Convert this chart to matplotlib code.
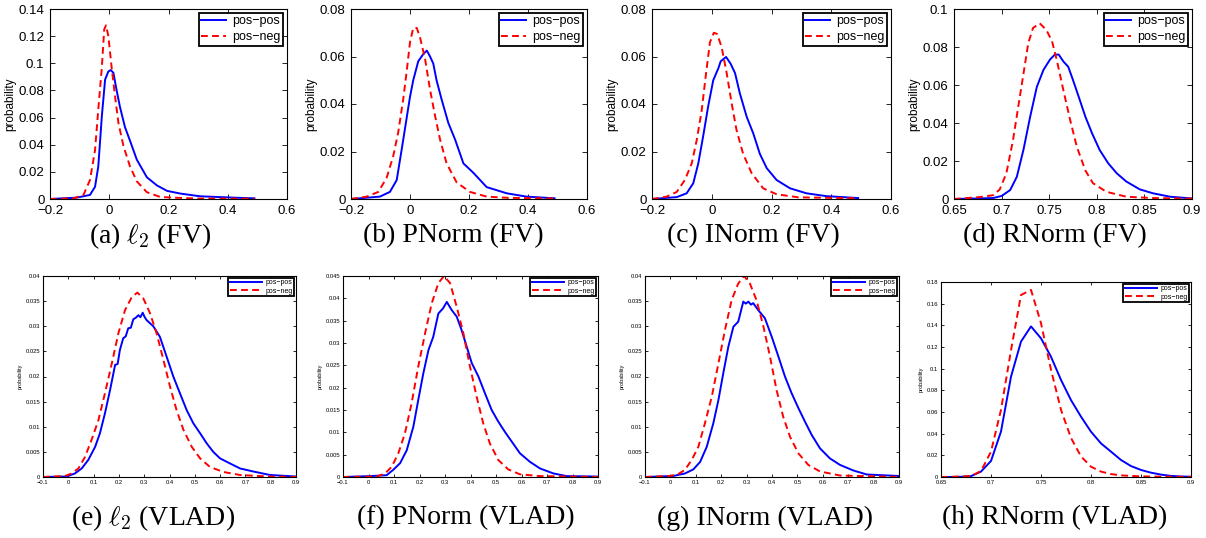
import matplotlib
matplotlib.use("Agg")
import matplotlib.pyplot as plt
from matplotlib.ticker import FixedLocator, FuncFormatter

plt.rcParams['font.family'] = ['Liberation Sans', 'DejaVu Sans']
plt.rcParams['mathtext.fontset'] = 'cm'

# ---- data (x, probability) ----
# (a) l2 (FV)
a_pos_x = [-0.2, -0.11, -0.065, -0.048, -0.037, -0.025, -0.014, -0.003, 0.005, 0.014, 0.025, 0.036, 0.053, 0.07, 0.093, 0.127, 0.161, 0.195, 0.24, 0.307, 0.42, 0.49]
a_pos_y = [0, 0.001, 0.003, 0.009, 0.024, 0.061, 0.088, 0.094, 0.095, 0.093, 0.080, 0.068, 0.053, 0.043, 0.029, 0.016, 0.010, 0.006, 0.004, 0.002, 0.001, 0.0005]
a_neg_x = [-0.2, -0.12, -0.087, -0.065, -0.048, -0.037, -0.025, -0.017, -0.011, -0.003, 0.008, 0.02, 0.031, 0.048, 0.07, 0.093, 0.127, 0.172, 0.216, 0.3, 0.49]
a_neg_y = [0, 0.0005, 0.003, 0.014, 0.036, 0.066, 0.097, 0.125, 0.128, 0.12, 0.097, 0.075, 0.056, 0.039, 0.024, 0.013, 0.005, 0.0015, 0.001, 0.0003, 0.0002]

# (b) PNorm (FV)
b_pos_x = [-0.2, -0.102, -0.068, -0.045, -0.028, -0.014, 0.0, 0.011, 0.028, 0.045, 0.057, 0.068, 0.079, 0.09, 0.107, 0.13, 0.153, 0.181, 0.215, 0.26, 0.328, 0.395, 0.49]
b_pos_y = [0, 0.001, 0.003, 0.008, 0.021, 0.032, 0.043, 0.050, 0.058, 0.061, 0.0625, 0.060, 0.057, 0.050, 0.042, 0.032, 0.025, 0.015, 0.011, 0.005, 0.0024, 0.001, 0.0003]
b_neg_x = [-0.2, -0.147, -0.107, -0.079, -0.057, -0.04, -0.023, -0.011, 0.0, 0.011, 0.023, 0.034, 0.051, 0.068, 0.085, 0.102, 0.124, 0.158, 0.203, 0.26, 0.33, 0.49]
b_neg_y = [0, 0.001, 0.003, 0.009, 0.018, 0.028, 0.042, 0.054, 0.066, 0.072, 0.072, 0.068, 0.059, 0.046, 0.035, 0.025, 0.015, 0.007, 0.003, 0.001, 0.0005, 0.0002]

# (c) INorm (FV)
c_pos_x = [-0.2, -0.117, -0.084, -0.062, -0.045, -0.028, -0.012, 0.005, 0.022, 0.03, 0.048, 0.063, 0.078, 0.094, 0.117, 0.139, 0.161, 0.184, 0.217, 0.262, 0.317, 0.384, 0.49]
c_pos_y = [0, 0.0008, 0.0024, 0.0066, 0.015, 0.027, 0.039, 0.050, 0.055, 0.058, 0.0598, 0.057, 0.053, 0.0445, 0.0346, 0.0276, 0.019, 0.013, 0.008, 0.0045, 0.0024, 0.0012, 0.0004]
c_neg_x = [-0.2, -0.151, -0.117, -0.09, -0.067, -0.05, -0.034, -0.019, -0.006, 0.007, 0.018, 0.033, 0.05, 0.067, 0.083, 0.105, 0.133, 0.172, 0.217, 0.29, 0.49]
c_neg_y = [0, 0.001, 0.003, 0.008, 0.015, 0.025, 0.037, 0.053, 0.066, 0.070, 0.0695, 0.064, 0.053, 0.040, 0.029, 0.019, 0.011, 0.0045, 0.002, 0.0007, 0.0003]

# (d) RNorm (FV)
d_pos_x = [0.65, 0.691, 0.70, 0.709, 0.716, 0.723, 0.73, 0.737, 0.744, 0.751, 0.756, 0.76, 0.765, 0.77, 0.775, 0.781, 0.788, 0.795, 0.803, 0.812, 0.821, 0.831, 0.845, 0.859, 0.877, 0.9]
d_pos_y = [0, 0.0005, 0.0016, 0.0047, 0.0117, 0.026, 0.0433, 0.059, 0.068, 0.0735, 0.076, 0.076, 0.0723, 0.0696, 0.0626, 0.0538, 0.0433, 0.0346, 0.0258, 0.0188, 0.0135, 0.0092, 0.0051, 0.003, 0.0012, 0.0003]
d_neg_x = [0.65, 0.677, 0.691, 0.698, 0.705, 0.712, 0.7175, 0.723, 0.728, 0.733, 0.74, 0.747, 0.753, 0.758, 0.765, 0.772, 0.779, 0.788, 0.796, 0.81, 0.831, 0.859, 0.9]
d_neg_y = [0, 0.001, 0.002, 0.005, 0.0135, 0.031, 0.0486, 0.066, 0.082, 0.090, 0.0925, 0.089, 0.083, 0.073, 0.057, 0.0416, 0.0275, 0.015, 0.0083, 0.0038, 0.0012, 0.0005, 0.0002]

# (e) l2 (VLAD)
e_pos_x = [-0.1, -0.007, 0.026, 0.053, 0.079, 0.106, 0.125, 0.145, 0.165, 0.185, 0.195, 0.204, 0.217, 0.227, 0.237, 0.247, 0.257, 0.267, 0.277, 0.285, 0.294, 0.302, 0.31, 0.336, 0.362, 0.389, 0.415, 0.441, 0.468, 0.494, 0.521, 0.547, 0.573, 0.6, 0.639, 0.679, 0.731, 0.797, 0.9]
e_pos_y = [0, 0.0001, 0.0007, 0.0017, 0.0034, 0.006, 0.0087, 0.0127, 0.0173, 0.0223, 0.0225, 0.0253, 0.0276, 0.028, 0.0296, 0.0297, 0.0314, 0.0317, 0.0322, 0.0318, 0.0327, 0.0318, 0.0312, 0.030, 0.0279, 0.0239, 0.020, 0.0167, 0.0133, 0.0107, 0.0087, 0.0067, 0.005, 0.0037, 0.0027, 0.0017, 0.0011, 0.0004, 0.0001]
e_neg_x = [-0.1, -0.013, 0.013, 0.04, 0.066, 0.092, 0.119, 0.145, 0.172, 0.198, 0.224, 0.251, 0.273, 0.296, 0.323, 0.349, 0.376, 0.402, 0.428, 0.455, 0.488, 0.521, 0.56, 0.613, 0.679, 0.79, 0.9]
e_neg_y = [0, 0.0002, 0.0007, 0.0017, 0.004, 0.0074, 0.0113, 0.0167, 0.0226, 0.0286, 0.0332, 0.0358, 0.0367, 0.0356, 0.0326, 0.0286, 0.0233, 0.018, 0.0133, 0.0094, 0.006, 0.0037, 0.002, 0.001, 0.0004, 0.0001, 0]

# (f) PNorm (VLAD)
f_pos_x = [-0.1, 0.006, 0.071, 0.097, 0.124, 0.15, 0.176, 0.195, 0.215, 0.235, 0.254, 0.274, 0.293, 0.307, 0.326, 0.346, 0.365, 0.385, 0.405, 0.431, 0.457, 0.483, 0.509, 0.535, 0.562, 0.594, 0.633, 0.673, 0.725, 0.777, 0.9]
f_pos_y = [0, 0.0002, 0.0004, 0.0016, 0.0031, 0.006, 0.0113, 0.0172, 0.0232, 0.0284, 0.0314, 0.0366, 0.0378, 0.0392, 0.0374, 0.0359, 0.0329, 0.0292, 0.0255, 0.0225, 0.0187, 0.015, 0.0124, 0.0101, 0.0079, 0.0053, 0.0034, 0.0019, 0.0008, 0.0002, 0.0001]
f_neg_x = [-0.1, 0.032, 0.065, 0.091, 0.117, 0.143, 0.169, 0.195, 0.222, 0.248, 0.274, 0.296, 0.32, 0.346, 0.372, 0.398, 0.424, 0.45, 0.476, 0.509, 0.548, 0.594, 0.673, 0.9]
f_neg_y = [0, 0.0001, 0.0008, 0.0023, 0.0053, 0.0098, 0.0165, 0.0247, 0.0322, 0.0389, 0.0434, 0.045, 0.0434, 0.0381, 0.0322, 0.0247, 0.018, 0.012, 0.0075, 0.0038, 0.0017, 0.0006, 0.0002, 0]

# (g) INorm (VLAD)
g_pos_x = [-0.1, 0.011, 0.057, 0.09, 0.117, 0.143, 0.169, 0.189, 0.208, 0.228, 0.248, 0.267, 0.287, 0.297, 0.307, 0.317, 0.326, 0.346, 0.372, 0.399, 0.425, 0.451, 0.477, 0.504, 0.53, 0.556, 0.589, 0.628, 0.668, 0.72, 0.773, 0.9]
g_pos_y = [0, 0.0002, 0.0007, 0.0015, 0.003, 0.006, 0.0107, 0.0153, 0.0206, 0.0259, 0.0299, 0.0309, 0.0349, 0.0345, 0.0349, 0.0343, 0.0346, 0.0332, 0.0316, 0.0279, 0.024, 0.020, 0.0167, 0.0137, 0.011, 0.0084, 0.0057, 0.0037, 0.0024, 0.0013, 0.0005, 0.0002]
g_neg_x = [-0.1, -0.002, 0.031, 0.057, 0.084, 0.11, 0.136, 0.163, 0.189, 0.215, 0.241, 0.267, 0.29, 0.313, 0.339, 0.366, 0.392, 0.418, 0.444, 0.471, 0.504, 0.543, 0.589, 0.668, 0.9]
g_neg_y = [0, 0.0002, 0.0006, 0.0014, 0.0034, 0.006, 0.0107, 0.016, 0.0226, 0.0293, 0.0352, 0.0385, 0.040, 0.0385, 0.0352, 0.030, 0.024, 0.0173, 0.012, 0.008, 0.0047, 0.0024, 0.0011, 0.0003, 0]

# (h) RNorm (VLAD)
h_x = [0.65, 0.66, 0.67, 0.68, 0.69, 0.70, 0.71, 0.72, 0.73, 0.74, 0.75, 0.76, 0.77, 0.78, 0.79, 0.80, 0.81, 0.82, 0.83, 0.84, 0.85, 0.86, 0.87, 0.88, 0.89, 0.90]
h_pos_y = [0, 0, 0.0002, 0.0008, 0.005, 0.0148, 0.042, 0.0926, 0.125, 0.139, 0.128, 0.111, 0.0896, 0.071, 0.0557, 0.0418, 0.031, 0.0234, 0.0157, 0.0101, 0.0065, 0.004, 0.0022, 0.001, 0.0005, 0.0002]
h_neg_y = [0, 0.0002, 0.0005, 0.0009, 0.0055, 0.0234, 0.062, 0.117, 0.168, 0.1727, 0.142, 0.099, 0.062, 0.036, 0.019, 0.0095, 0.005, 0.0027, 0.0015, 0.001, 0.0006, 0.0004, 0.0003, 0.0003, 0.0002, 0.0002]

captions = ["(a) $\\ell_2$ (FV)", "(b) PNorm (FV)", "(c) INorm (FV)", "(d) RNorm (FV)",
            "(e) $\\ell_2$ (VLAD)", "(f) PNorm (VLAD)", "(g) INorm (VLAD)", "(h) RNorm (VLAD)"]

fv_xticks = [-0.2, 0, 0.2, 0.4, 0.6]
vlad_xticks = [-0.1, 0, 0.1, 0.2, 0.3, 0.4, 0.5, 0.6, 0.7, 0.8, 0.9]
rn_xticks = [0.65, 0.7, 0.75, 0.8, 0.85, 0.9]


def fmt(v, pos):
    s = "%g" % round(v, 4)
    return s.replace("-", "\u2212")


def draw_panel(fig, rect, pos_x, pos_y, neg_x, neg_y, xticks, yticks, small):
    ax = fig.add_axes(rect)
    ax.plot(pos_x, pos_y, color='#0000ff', lw=1.4, label='pos\u2212pos')
    ax.plot(neg_x, neg_y, color='#ff0000', lw=1.4, ls=(0, (3.5, 2.2)), label='pos\u2212neg')
    ax.set_xlim(xticks[0], xticks[-1])
    ax.set_ylim(yticks[0], yticks[-1])
    ax.xaxis.set_major_locator(FixedLocator(xticks))
    ax.yaxis.set_major_locator(FixedLocator(yticks))
    ax.xaxis.set_major_formatter(FuncFormatter(fmt))
    ax.yaxis.set_major_formatter(FuncFormatter(fmt))
    if small:
        fs, lfs, yfs, tl, pd = 4.2, 5.0, 4.0, 2.5, 2
        hl, ls = 4.6, 0.15
    else:
        fs, lfs, yfs, tl, pd = 9.5, 9, 8.5, 3.5, 4
        hl, ls = 2.0, 0.3
    ax.tick_params(direction='in', top=True, right=True, labelsize=fs, length=tl,
                   width=0.6, pad=pd)
    ax.set_ylabel('probability', fontsize=yfs, labelpad=2)
    for sp in ax.spines.values():
        sp.set_linewidth(0.8)
    leg = ax.legend(loc='upper right', fontsize=lfs, fancybox=False, framealpha=1,
                    borderaxespad=0.3, handlelength=hl, labelspacing=ls,
                    borderpad=0.2, handletextpad=0.5)
    leg.get_frame().set_edgecolor('black')
    leg.get_frame().set_linewidth(1.3)
    return ax


fig = plt.figure(figsize=[12.06, 5.38], dpi=100)
W, H = 1206.0, 538.0


def rect(l, r, t, b):
    return [l / W, 1 - b / H, (r - l) / W, (b - t) / H]


draw_panel(fig, rect(50, 287, 9, 199), a_pos_x, a_pos_y, a_neg_x, a_neg_y, fv_xticks,
           [0, 0.02, 0.04, 0.06, 0.08, 0.1, 0.12, 0.14], False)
draw_panel(fig, rect(351, 587, 9, 199), b_pos_x, b_pos_y, b_neg_x, b_neg_y, fv_xticks,
           [0, 0.02, 0.04, 0.06, 0.08], False)
draw_panel(fig, rect(652, 891, 9, 199), c_pos_x, c_pos_y, c_neg_x, c_neg_y, fv_xticks,
           [0, 0.02, 0.04, 0.06, 0.08], False)
draw_panel(fig, rect(954, 1192, 9, 199), d_pos_x, d_pos_y, d_neg_x, d_neg_y, rn_xticks,
           [0, 0.02, 0.04, 0.06, 0.08, 0.1], False)

vlad_y4 = [0, 0.005, 0.01, 0.015, 0.02, 0.025, 0.03, 0.035, 0.04]
draw_panel(fig, rect(43, 296, 276, 477), e_pos_x, e_pos_y, e_neg_x, e_neg_y, vlad_xticks,
           vlad_y4, True)
draw_panel(fig, rect(343, 598, 276, 477), f_pos_x, f_pos_y, f_neg_x, f_neg_y, vlad_xticks,
           [0, 0.005, 0.01, 0.015, 0.02, 0.025, 0.03, 0.035, 0.04, 0.045], True)
draw_panel(fig, rect(645, 899, 276, 477), g_pos_x, g_pos_y, g_neg_x, g_neg_y, vlad_xticks,
           vlad_y4, True)
draw_panel(fig, rect(941, 1191, 282, 477), h_x, h_pos_y, h_x, h_neg_y, rn_xticks,
           [0, 0.02, 0.04, 0.06, 0.08, 0.1, 0.12, 0.14, 0.16, 0.18], True)

cap_x = [150, 453, 753, 1055, 153, 466, 765, 1055]
cap_y = [236, 236, 236, 236, 518, 518, 518, 518]
for i in range(8):
    fig.text(cap_x[i] / W, 1 - cap_y[i] / H, captions[i], ha='center', va='center',
             fontsize=20, family=['Liberation Serif', 'DejaVu Serif'])

fig.savefig("out.png", dpi=100)
